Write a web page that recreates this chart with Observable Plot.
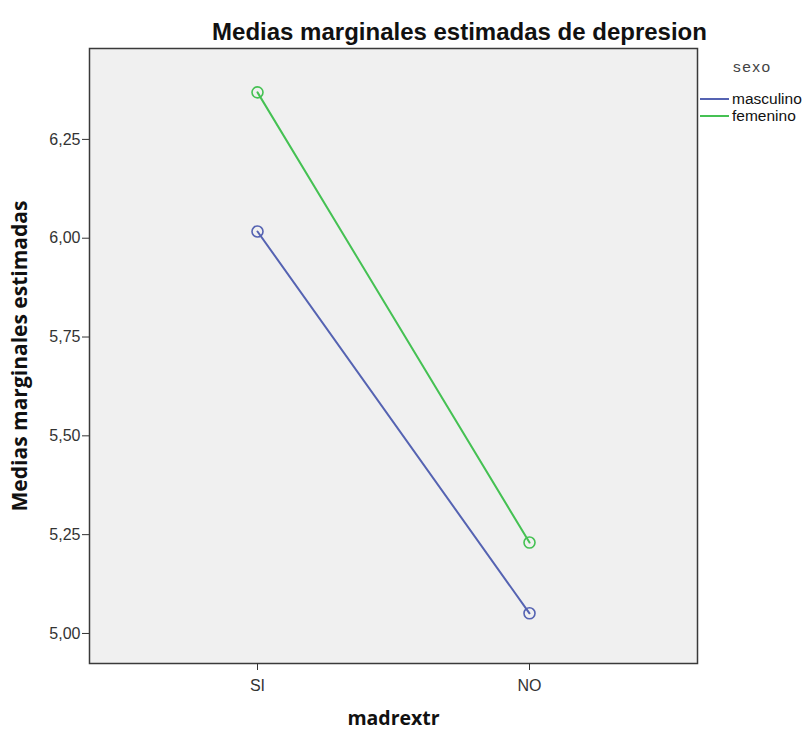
<!DOCTYPE html>
<html>
<head>
<meta charset="utf-8">
<script src="https://cdn.jsdelivr.net/npm/d3@7"></script>
<script src="https://cdn.jsdelivr.net/npm/@observablehq/plot@0.6"></script>
<style>
  html, body { margin: 0; padding: 0; background: #fff; }
  #wrap { position: relative; width: 806px; height: 729px; font-family: "Liberation Sans", Arial, sans-serif; }
  #legend { position: absolute; left: 700px; top: 58px; font-family: "Liberation Sans", Arial, sans-serif; }
  #legend .ttl { font-size: 15.5px; color: #444; letter-spacing: 1.5px; margin-left: 33px; margin-bottom: 14px; }
  #legend .row { display: flex; align-items: center; height: 17px; font-size: 15.5px; color: #111; }
  #legend svg { margin-right: 3px; }
</style>
</head>
<body>
<div id="wrap"></div>
<script>
const categories = ["SI", "NO"];
const sexos = ["masculino", "femenino"];
const masculino = [6.017, 5.051];
const femenino = [6.369, 5.230];
const yTicks = [5.00, 5.25, 5.50, 5.75, 6.00, 6.25];
const colors = ["#5563b2", "#45c153"];
const title = "Medias marginales estimadas de depresion";
const yLabel = "Medias marginales estimadas";
const xLabel = "madrextr";
const legendTitle = "sexo";

const seriesValues = [masculino, femenino];
const data = sexos.flatMap((s, i) => categories.map((c, j) => ({ sexo: s, cat: c, value: seriesValues[i][j] })));

const fmt = d => d.toFixed(2).replace(".", ",");

const chart = Plot.plot({
  width: 806,
  height: 729,
  marginLeft: 89,
  marginRight: 109,
  marginTop: 48,
  marginBottom: 66,
  style: { fontFamily: "'Liberation Sans', Arial, sans-serif", background: "#fff", overflow: "visible" },
  x: { type: "point", domain: categories, padding: 0.6136, label: null },
  y: { domain: [4.924, 6.48], label: null },
  color: { domain: sexos, range: colors },
  marks: [
    Plot.frame({ fill: "#f0f0f0", stroke: "#3a3a3a", strokeWidth: 1.5 }),
    Plot.axisY(yTicks, { tickSize: 7, tickPadding: 2, tickFormat: fmt, fontSize: 16, stroke: "#333", fill: "#333", label: null }),
    Plot.axisX(categories, { tickSize: 7, tickPadding: 9, fontSize: 16, stroke: "#333", fill: "#333", label: null }),
    Plot.line(data, { x: "cat", y: "value", z: "sexo", stroke: d => d.sexo, strokeWidth: 2 }),
    Plot.dot(data, { x: "cat", y: "value", stroke: d => d.sexo, r: 5.5, strokeWidth: 1.6, fill: "none" }),
    Plot.text([title], { frameAnchor: "top", dx: 66, dy: -26, fontSize: 24, fontWeight: "bold", fill: "#111" }),
    Plot.text([yLabel], { frameAnchor: "left", textAnchor: "middle", dx: -69, rotate: -90, fontSize: 21, fontWeight: "bold", fill: "#111", fontFamily: "'Open Sans', sans-serif" }),
    Plot.text([xLabel], { frameAnchor: "bottom", dy: 61, fontSize: 19.5, fontWeight: "bold", fill: "#111", fontFamily: "'Open Sans', sans-serif" })
  ]
});

const wrap = document.getElementById("wrap");
wrap.appendChild(chart);

const legend = document.createElement("div");
legend.id = "legend";
const lt = document.createElement("div");
lt.className = "ttl";
lt.textContent = legendTitle;
legend.appendChild(lt);
sexos.forEach((s, i) => {
  const row = document.createElement("div");
  row.className = "row";
  row.innerHTML = `<svg width="29" height="4"><line x1="0" x2="29" y1="2" y2="2" stroke="${colors[i]}" stroke-width="2"/></svg><span>${s}</span>`;
  legend.appendChild(row);
});
wrap.appendChild(legend);
</script>
</body>
</html>
